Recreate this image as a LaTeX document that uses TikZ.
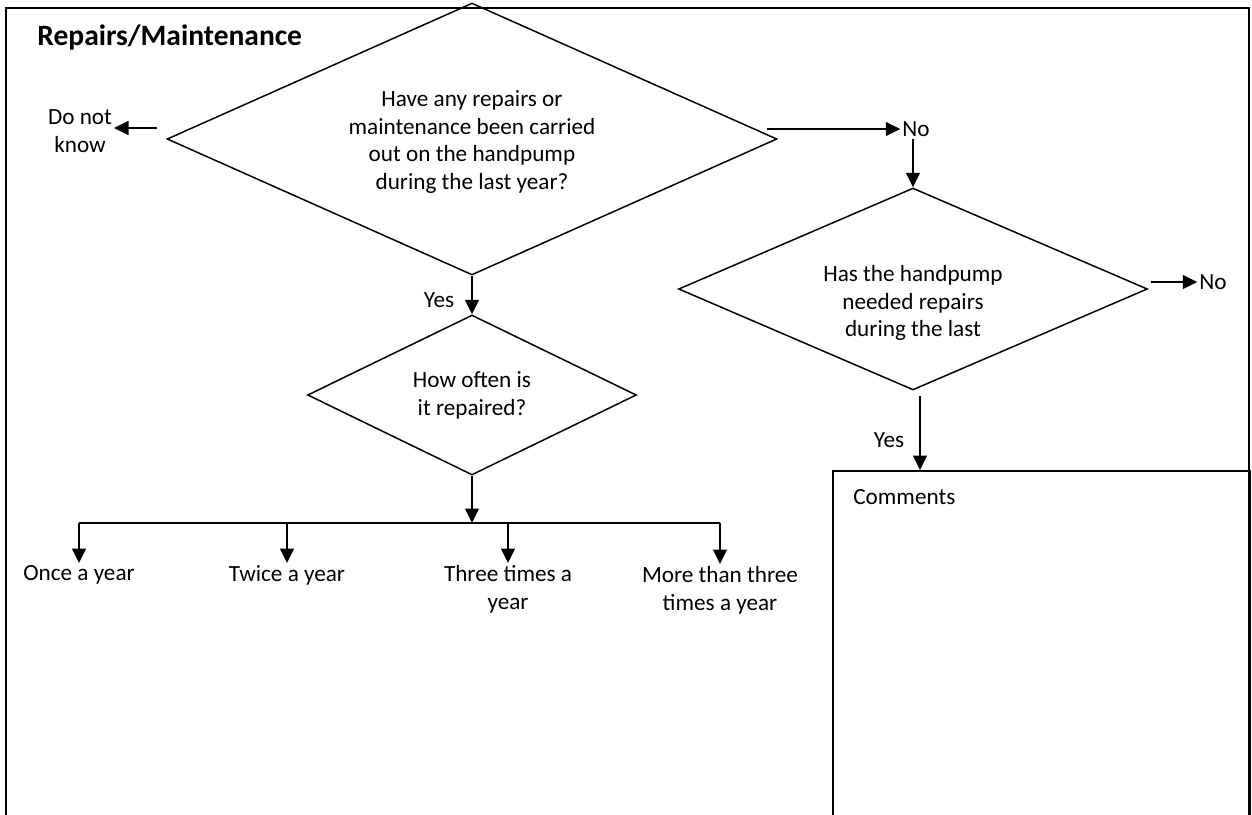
\documentclass[tikz,border=0pt]{standalone}
\usepackage{fontspec}
\setmainfont{Carlito}
\usetikzlibrary{shapes.geometric,arrows.meta}

\begin{document}
\begin{tikzpicture}[x=0.02cm, y=-0.02cm,
        every node/.style={font=\fontsize{13.2pt}{15.9pt}\selectfont},
        question/.style={draw, diamond, line width=0.85pt, inner sep=0pt, align=center},
        txt/.style={inner sep=1pt, align=center},
        conn/.style={-{Triangle[length=0.29cm, width=0.28cm]}, line width=0.85pt},
        border/.style={draw, line width=1.1pt}]
        \useasboundingbox (0,0) rectangle (1252,815);
        \clip (0,0) rectangle (1252,815);
        \draw[border] (6,830) -- (6,8) -- (1249,8) -- (1249,830);
        \node (title) [anchor=base west, inner sep=0pt, font=\fontsize{16.8pt}{20pt}\selectfont\bfseries] at (37,45) {Repairs/Maintenance};

        \node (q1) [question, aspect=2.24, minimum width=12.2cm, minimum height=5.44cm] at (472,139) {};
        \node (q1text) [txt] at (472,142) {Have any repairs or\\maintenance been carried\\out on the handpump\\during the last year?};
        \node (dnk) [txt] at (80,131) {Do not\\know};
        \node (no1) [txt] at (916,129) {No};
        \node (q2) [question, aspect=2.3, minimum width=9.38cm, minimum height=4.04cm] at (913,289) {};
        \node (q2text) [txt] at (913,303) {Has the handpump\\needed repairs\\during the last};
        \node (no2) [txt] at (1213,282) {No};
        \node (yes1) [txt] at (439,300) {Yes};
        \node (q3) [question, aspect=2.06, minimum width=6.58cm, minimum height=3.2cm] at (472,395) {How often is\\it repaired?};
        \node (yes2) [txt] at (889,440) {Yes};
        \node (comments) [border, anchor=north west, minimum width=8.34cm, minimum height=8cm] at (832,470) {};
        \node (commentstext) [anchor=west, inner sep=0pt] at (853,497) {Comments};
        \node (opt1) [txt, anchor=north] at (79,563) {Once a year};
        \node (opt2) [txt, anchor=north] at (287,563) {Twice a year};
        \node (opt3) [txt, anchor=north] at (508,563) {Three times a\\year};
        \node (opt4) [txt, anchor=north] at (720,564) {More than three\\times a year};

        \coordinate (dnkstart) at (157,128);
        \coordinate (no1start) at (767,129);
        \coordinate (no2start) at (1151,282);
        \coordinate (yes2start) at (920,396);
        \coordinate (hub) at (472,523);

        \draw[conn] (dnkstart) -- (dnk.east |- dnkstart);
        \draw[conn] (no1start) -- (no1.west);
        \draw[conn] (q2.north |- no1.south) -- (q2.north);
        \draw[conn] (no2start) -- (no2.west);
        \draw[conn] (q1.south) -- (q3.north);
        \draw[conn] (yes2start) -- (yes2start |- comments.north);
        \draw[conn] (q3.south) -- (hub);
        \draw[line width=0.85pt] (opt1.north |- hub) -- (opt4.north |- hub);
        \draw[conn] (opt1.north |- hub) -- (opt1.north);
        \draw[conn] (opt2.north |- hub) -- (opt2.north);
        \draw[conn] (opt3.north |- hub) -- (opt3.north);
        \draw[conn] (opt4.north |- hub) -- (opt4.north);
    \end{tikzpicture}
\end{document}
